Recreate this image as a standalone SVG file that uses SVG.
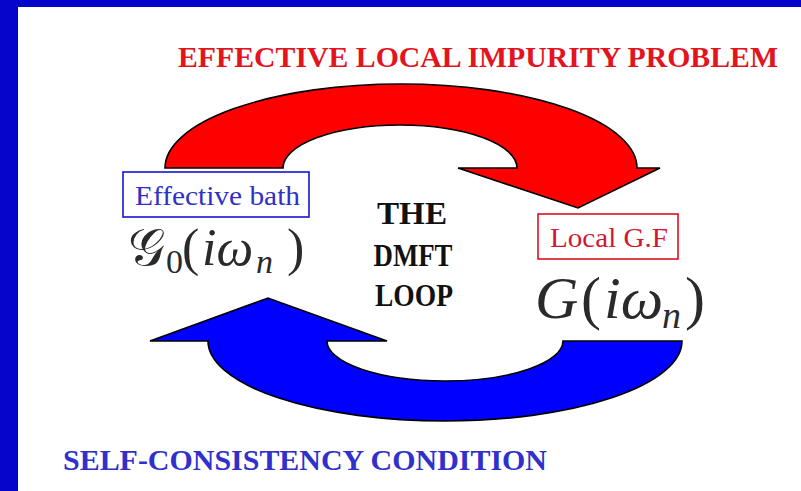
<svg xmlns="http://www.w3.org/2000/svg" width="801" height="491" viewBox="0 0 801 491">
<style>
.title{font-family:"Liberation Serif","Times New Roman",serif;font-weight:bold;font-size:30px}
.lbl{font-family:"Liberation Serif","Times New Roman",serif;font-size:27px}
.loop{font-family:"Liberation Serif","Times New Roman",serif;font-weight:bold;font-size:31px;fill:#111;text-anchor:middle}
.m{font-family:"Liberation Serif","DejaVu Serif",serif;fill:#2a2a2a}
.it{font-style:italic}
.arrow{stroke:#000;stroke-width:1.6;stroke-linejoin:miter}
</style>
<rect x="0" y="0" width="801" height="491" fill="#0505CC"/>
<rect x="18" y="7" width="783" height="484" fill="#ffffff"/>

<g id="connectors">
  <path id="red-arrow" class="arrow" fill="#FF0000" d="M165,168 A236,84 0 0 1 637,168 L660,168 L578,208 L458,168 L517,168 A117,43 0 0 0 283,168 Z"/>
  <path id="blue-arrow" class="arrow" fill="#0000FF" d="M208,341 A237,80 0 0 0 682,341 L563,341 A118,40 0 0 1 327,341 L387,341 L268,298 L150,341 Z"/>
</g>

<g id="title-top">
  <text class="title" x="178" y="67" fill="#E3141E" textLength="600" lengthAdjust="spacingAndGlyphs">EFFECTIVE LOCAL IMPURITY PROBLEM</text>
</g>
<g id="title-bottom">
  <text class="title" x="63" y="470" fill="#3030CC" textLength="484" lengthAdjust="spacingAndGlyphs">SELF-CONSISTENCY CONDITION</text>
</g>

<g id="effective-bath">
  <rect x="123" y="172" width="186" height="45" fill="#fff" stroke="#1515D0" stroke-width="1.6"/>
  <text class="lbl" x="135" y="205" fill="#3030C8" textLength="165" lengthAdjust="spacingAndGlyphs">Effective bath</text>
  <text class="m" x="128" y="265" font-size="52">𝒢</text>
  <text class="m" x="166" y="273" font-size="34">0</text>
  <text class="m" x="182" y="265" font-size="52">(</text>
  <text class="m it" x="202" y="265" font-size="52">iω</text>
  <text class="m it" x="256" y="273" font-size="34">n</text>
  <text class="m" x="287" y="265" font-size="52">)</text>
</g>

<g id="local-gf">
  <rect x="538" y="214" width="140" height="45" fill="#fff" stroke="#E01020" stroke-width="1.6"/>
  <text class="lbl" x="550" y="247" fill="#D01830" textLength="118" lengthAdjust="spacingAndGlyphs">Local G.F</text>
  <text class="m it" x="535" y="318" font-size="60">G</text>
  <text class="m" x="581" y="318" font-size="60">(</text>
  <text class="m it" x="604" y="318" font-size="60">iω</text>
  <text class="m it" x="662" y="328" font-size="38">n</text>
  <text class="m" x="685" y="318" font-size="60">)</text>
</g>

<g id="dmft-loop">
  <text class="loop" x="412" y="224" textLength="70" lengthAdjust="spacingAndGlyphs">THE</text>
  <text class="loop" x="413" y="266" textLength="79" lengthAdjust="spacingAndGlyphs">DMFT</text>
  <text class="loop" x="414" y="306" textLength="78" lengthAdjust="spacingAndGlyphs">LOOP</text>
</g>
</svg>
